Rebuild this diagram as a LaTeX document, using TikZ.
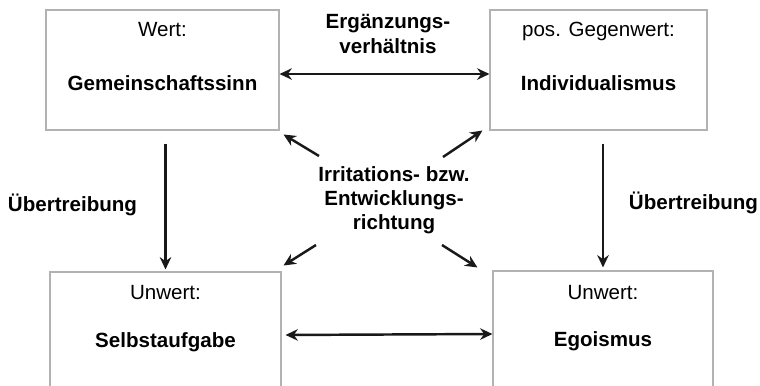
\documentclass[tikz,border=0pt]{standalone}
\usepackage{fontspec}
\setmainfont{Liberation Sans}
\usepackage{tikz}
\usetikzlibrary{arrows.meta,positioning,calc}

\begin{document}
\begin{tikzpicture}[
      >={Stealth[length=7pt,width=6.5pt]},
      wertbox/.style={draw=black!30, line width=0.6pt, rectangle, minimum height=2.4cm},
      titel/.style={anchor=base, inner sep=0pt, font=\fontsize{11.7}{13.8}\selectfont},
      begriff/.style={anchor=base, inner sep=0pt, font=\bfseries\fontsize{11.7}{13.8}\selectfont},
      beschr/.style={align=center, inner sep=0pt, font=\bfseries\fontsize{11.7}{13.8}\selectfont},
      pfeil/.style={line width=1.4pt, black!90}
    ]
    \clip (0,0) rectangle (15.2,-7.7);

    % Kaesten
    \node[wertbox, minimum width=4.66cm] (gemein) at (3.25,-1.4) {};
    \node[titel] (gemeinT) at ([yshift=-0.55cm]gemein.north) {Wert:};
    \node[begriff] (gemeinB) at ([yshift=-1.62cm]gemein.north) {Gemeinschaftssinn};

    \node[wertbox, minimum width=4.34cm] (indiv) at (11.97,-1.4) {};
    \node[titel] (indivT) at ([yshift=-0.55cm]indiv.north) {pos. Gegenwert:};
    \node[begriff] (indivB) at ([yshift=-1.62cm]indiv.north) {Individualismus};

    \node[wertbox, minimum width=4.62cm] (selbst) at (3.31,-6.64) {};
    \node[titel] (selbstT) at ([yshift=-0.56cm]selbst.north) {Unwert:};
    \node[begriff] (selbstB) at ([yshift=-1.52cm]selbst.north) {Selbstaufgabe};

    \node[wertbox, minimum width=4.4cm] (ego) at (12.06,-6.62) {};
    \node[titel] (egoT) at ([yshift=-0.58cm]ego.north) {Unwert:};
    \node[begriff] (egoB) at ([yshift=-1.52cm]ego.north) {Egoismus};

    % Beschriftungen
    \node[beschr] (ergaenz) at (7.76,-0.68) {Ergänzungs-\\verhältnis};
    \node[beschr] (irr) at (7.88,-4.0) {Irritations- bzw.\\Entwicklungs-\\richtung};
    \node[beschr] (uebL) at (1.45,-4.1) {Übertreibung};
    \node[beschr] (uebR) at (13.87,-4.06) {Übertreibung};

    % Pfeile
    \draw[pfeil, <->] ([yshift=-0.08cm]gemein.east) -- ([yshift=-0.08cm]indiv.west);
    \draw[pfeil, <->, shorten <=0.08cm] ([yshift=-0.06cm]selbst.east) -- ([yshift=-0.06cm]ego.west);

    \draw[pfeil, ->, shorten <=0.26cm, shorten >=0.04cm] (gemein.south -| selbst.north) -- (selbst.north);
    \draw[pfeil, ->, shorten <=0.26cm, shorten >=0.06cm] (indiv.south -| ego.north) -- (ego.north);

    \coordinate (d1) at (6.38,-3.12);
    \coordinate (d2) at (8.86,-3.14);
    \coordinate (d3) at (6.32,-4.9);
    \coordinate (d4) at (8.84,-4.9);
    \draw[pfeil, ->] (d1) -- ([xshift=0.08cm,yshift=-0.08cm]gemein.south east);
    \draw[pfeil, ->] (d2) -- ([xshift=-0.14cm]indiv.south west);
    \draw[pfeil, ->] (d3) -- ([xshift=0.04cm,yshift=0.12cm]selbst.north east);
    \draw[pfeil, ->] (d4) -- ([xshift=-0.3cm,yshift=0.06cm]ego.north west);
  \end{tikzpicture}
\end{document}
